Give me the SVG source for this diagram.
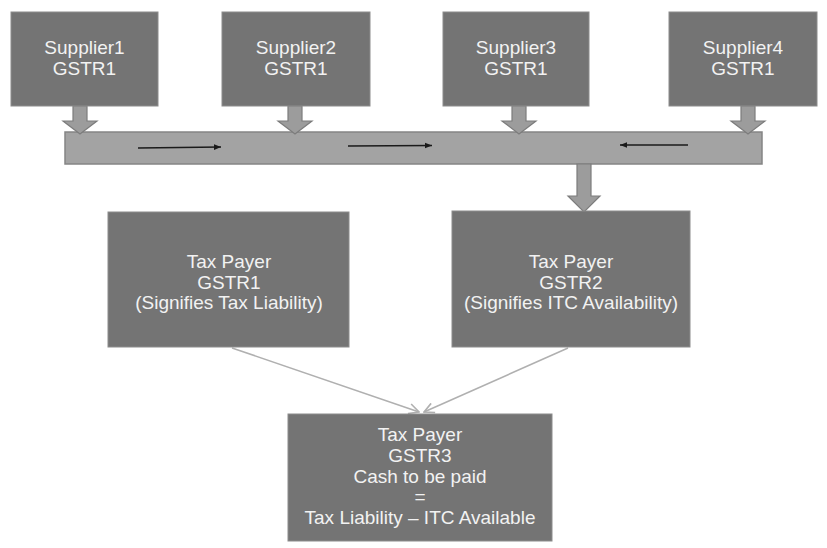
<svg xmlns="http://www.w3.org/2000/svg" width="827" height="548" viewBox="0 0 827 548">
<style>
.box{fill:#747474;stroke:#8c8c8c;stroke-width:1}
.bar{fill:#a3a3a3;stroke:#858585;stroke-width:1.5}
.blk{fill:#9c9c9c;stroke:#7c7c7c;stroke-width:1.2}
.t{font-family:"Liberation Sans",Arial,sans-serif;font-size:19px;fill:#f2f2f2;text-anchor:middle}
.sm{stroke:#1a1a1a;stroke-width:1.3;fill:none}
.gl{stroke:#b0b0b0;stroke-width:1.6;fill:none}
</style>
<defs>
<marker id="ah" viewBox="0 0 10 10" refX="10" refY="5" markerWidth="7" markerHeight="7" markerUnits="userSpaceOnUse" orient="auto">
<path d="M0,1 L10,5 L0,9 Z" fill="#1a1a1a"/>
</marker>
<marker id="gh" viewBox="0 0 12 12" refX="11" refY="6" markerWidth="12" markerHeight="12" markerUnits="userSpaceOnUse" orient="auto">
<path d="M1,1 L11,6 L1,11" fill="none" stroke="#b0b0b0" stroke-width="1.6"/>
</marker>
</defs>
<rect width="827" height="548" fill="#ffffff"/>

<g id="bar">
<rect class="bar" x="65" y="132" width="697" height="32"/>
</g>

<g id="connectors">
<path class="blk" d="M73,106 H87 V121 H97 L80,134 L63,121 H73 Z"/>
<path class="blk" d="M288,106 H302 V121 H312 L295,134 L278,121 H288 Z"/>
<path class="blk" d="M512,106 H526 V121 H536 L519,134 L502,121 H512 Z"/>
<path class="blk" d="M741,106 H755 V121 H765 L748,134 L731,121 H741 Z"/>
<path class="blk" d="M577,164 H591 V196 H600 L584,212 L568,196 H577 Z"/>
<line class="sm" x1="138" y1="148" x2="221" y2="147" marker-end="url(#ah)"/>
<line class="sm" x1="348" y1="146" x2="432" y2="145.5" marker-end="url(#ah)"/>
<line class="sm" x1="688" y1="145" x2="620" y2="145" marker-end="url(#ah)"/>
<line class="gl" x1="232" y1="348" x2="419" y2="412" marker-end="url(#gh)"/>
<line class="gl" x1="568" y1="348" x2="424" y2="412" marker-end="url(#gh)"/>
</g>

<g id="supplier1">
<rect class="box" x="11" y="12" width="147" height="94"/>
<text class="t" x="84.5" y="54">Supplier1</text>
<text class="t" x="84.5" y="75">GSTR1</text>
</g>
<g id="supplier2">
<rect class="box" x="222" y="12" width="148" height="94"/>
<text class="t" x="296" y="54">Supplier2</text>
<text class="t" x="296" y="75">GSTR1</text>
</g>
<g id="supplier3">
<rect class="box" x="443" y="12" width="146" height="94"/>
<text class="t" x="516" y="54">Supplier3</text>
<text class="t" x="516" y="75">GSTR1</text>
</g>
<g id="supplier4">
<rect class="box" x="669" y="12" width="148" height="94"/>
<text class="t" x="743" y="54">Supplier4</text>
<text class="t" x="743" y="75">GSTR1</text>
</g>

<g id="taxpayer-gstr1">
<rect class="box" x="108" y="212" width="241" height="135"/>
<text class="t" x="229" y="268">Tax Payer</text>
<text class="t" x="229" y="288.5">GSTR1</text>
<text class="t" x="229" y="309">(Signifies Tax Liability)</text>
</g>
<g id="taxpayer-gstr2">
<rect class="box" x="452" y="211" width="238" height="136"/>
<text class="t" x="571" y="268">Tax Payer</text>
<text class="t" x="571" y="288.5">GSTR2</text>
<text class="t" x="571" y="309">(Signifies ITC Availability)</text>
</g>
<g id="taxpayer-gstr3">
<rect class="box" x="288" y="414" width="264" height="127"/>
<text class="t" x="420" y="441">Tax Payer</text>
<text class="t" x="420" y="462">GSTR3</text>
<text class="t" x="420" y="483">Cash to be paid</text>
<text class="t" x="420" y="503">=</text>
<text class="t" x="420" y="524">Tax Liability – ITC Available</text>
</g>
</svg>
